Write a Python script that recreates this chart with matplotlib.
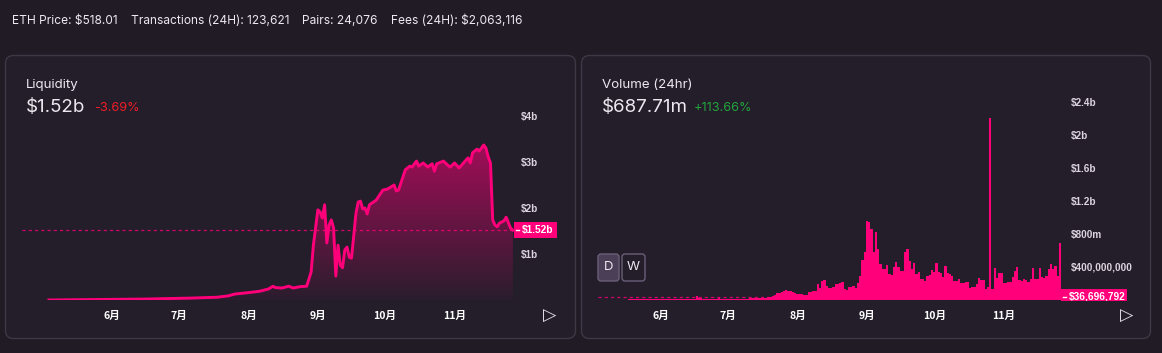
import numpy as np
import pandas as pd
import matplotlib
matplotlib.use("Agg")
import matplotlib.pyplot as plt
import matplotlib.dates as mdates
from matplotlib.patches import FancyBboxPatch, Rectangle
from matplotlib.colors import LinearSegmentedColormap
from matplotlib.lines import Line2D
from matplotlib.transforms import Bbox, IdentityTransform
from matplotlib.ticker import FixedLocator, FuncFormatter

W, H = 1162, 353
PINK = "#ff007a"
BG = "#211b26"
PANEL = "#241e2b"
EDGE = "#3e3846"
TXT = "#ece8f0"
TICK = "#dbd3de"

# header stats
header_items = ["ETH Price: $518.01", "Transactions (24H): 123,621",
                "Pairs: 24,076", "Fees (24H): $2,063,116"]

# liquidity, billions USD
liq_dates = [
    "2020-05-04", "2020-05-25", "2020-06-15", "2020-07-05", "2020-07-18",
    "2020-07-23", "2020-07-26", "2020-08-01", "2020-08-06", "2020-08-10",
    "2020-08-12", "2020-08-13", "2020-08-16", "2020-08-19", "2020-08-21",
    "2020-08-24", "2020-08-27", "2020-08-29", "2020-08-30", "2020-09-01",
    "2020-09-02", "2020-09-03", "2020-09-04", "2020-09-05", "2020-09-06",
    "2020-09-07", "2020-09-08", "2020-09-09", "2020-09-10", "2020-09-11",
    "2020-09-12", "2020-09-13", "2020-09-14", "2020-09-15", "2020-09-16",
    "2020-09-18", "2020-09-19", "2020-09-20", "2020-09-21", "2020-09-22",
    "2020-09-23", "2020-09-24", "2020-09-27", "2020-09-30", "2020-10-02",
    "2020-10-05", "2020-10-06", "2020-10-07", "2020-10-10", "2020-10-12",
    "2020-10-13", "2020-10-15", "2020-10-16", "2020-10-18", "2020-10-20",
    "2020-10-22", "2020-10-23", "2020-10-24", "2020-10-27", "2020-10-29",
    "2020-10-30", "2020-11-01", "2020-11-03", "2020-11-07", "2020-11-08",
    "2020-11-09", "2020-11-11", "2020-11-12", "2020-11-14", "2020-11-15",
    "2020-11-16", "2020-11-17", "2020-11-18", "2020-11-19", "2020-11-20",
    "2020-11-21", "2020-11-23", "2020-11-24", "2020-11-26", "2020-11-27",
]
liq_values = [
    0.00, 0.01, 0.02, 0.04, 0.06,
    0.09, 0.13, 0.16, 0.19, 0.24,
    0.30, 0.27, 0.26, 0.30, 0.26,
    0.29, 0.30, 0.61, 1.19, 1.96,
    1.91, 1.78, 2.07, 1.24, 1.63,
    1.74, 1.57, 0.52, 1.19, 0.76,
    0.70, 1.09, 1.15, 0.93, 0.91,
    1.89, 2.13, 2.15, 1.98, 2.00,
    1.87, 2.07, 2.17, 2.39, 2.41,
    2.50, 2.37, 2.39, 2.83, 2.91,
    2.89, 3.02, 2.91, 2.98, 2.89,
    2.96, 2.80, 2.96, 3.02, 2.93,
    2.89, 2.98, 2.87, 3.09, 2.98,
    3.20, 3.28, 3.24, 3.37, 3.30,
    3.11, 2.98, 1.74, 1.63, 1.59,
    1.67, 1.72, 1.80, 1.56, 1.52,
]
liq_ticks = [1, 2, 3, 4]
liq_tick_labels = ["$1b", "$2b", "$3b", "$4b"]

# daily volume, millions USD, from 2020-05-18
vol_start = "2020-05-18"
vol_may_jul = [8, 9, 9, 10, 10, 10, 11, 11, 11, 12, 12, 12, 12, 13,
               13, 13, 13, 13, 14, 14, 14, 14, 14, 15, 15, 16, 15, 16, 17, 18,
               48, 30, 28, 15, 18, 14, 15, 13, 16, 14, 20, 15, 14, 13, 14, 16, 15,
               12, 14, 15, 16, 17, 18, 16, 20, 22, 20, 25, 30, 20, 24, 28, 35, 38]
vol_jul_sep = [50, 55, 80, 85, 95, 110, 120, 115, 110, 100,
               80, 75, 70, 70, 65, 60, 100, 100, 105, 110,
               190, 150, 230, 240, 170, 150, 150, 160, 200, 200,
               205, 220, 130, 120, 160, 160, 170, 140, 210, 290,
               490, 580, 960, 940, 860, 580, 820, 620, 440, 380,
               380, 420, 310, 300, 400, 460, 400, 350, 350, 580,
               620, 470, 380, 450, 320, 340, 250, 250, 230, 290]
vol_oct_nov = [300, 360, 340, 450, 340, 330, 280, 410, 330, 310,
               290, 230, 230, 250, 210, 210, 220, 220, 150, 160,
               160, 200, 270, 240, 240, 130, 160, 2200, 130, 390,
               270, 330, 330, 210, 210, 220, 220, 280, 350, 400,
               240, 230, 250, 240, 220, 250, 390, 250, 260, 390,
               280, 270, 290, 380, 440, 380, 410, 290, 688]
vol_marker = 36.696792
vol_ticks = [0.4, 0.8, 1.2, 1.6, 2.0, 2.4]
vol_tick_labels = ["$400,000,000", "$800m", "$1.2b", "$1.6b", "$2b", "$2.4b"]

plt.rcParams["font.family"] = ["Inter", "DejaVu Sans"]

fig = plt.figure(figsize=(W / 100, H / 100), dpi=100, facecolor=BG)
ident = IdentityTransform()
renderer = fig.canvas.get_renderer()


def px_axes(x0, y0, x1, y1):
    return fig.add_axes([x0 / W, 1 - y1 / H, (x1 - x0) / W, (y1 - y0) / H])


def panel(x0, y0, x1, y1):
    p = FancyBboxPatch((x0, H - y1), x1 - x0, y1 - y0, transform=ident,
                       boxstyle="round,pad=0,rounding_size=8",
                       fc=PANEL, ec=EDGE, lw=1.0, zorder=-5)
    fig.add_artist(p)


def style_axes(ax):
    ax.set_facecolor("none")
    for s in ax.spines.values():
        s.set_visible(False)
    ax.yaxis.tick_right()
    ax.xaxis.set_major_locator(mdates.MonthLocator(bymonth=range(6, 12)))
    ax.xaxis.set_major_formatter(FuncFormatter(
        lambda v, p: f"{mdates.num2date(v).month}月"))
    ax.tick_params(axis="x", length=0, pad=8, colors="#ffffff",
                   labelsize=7.6)
    ax.tick_params(axis="y", length=0, colors=TICK)


def month_fonts(ax):
    for lbl in ax.get_xticklabels():
        lbl.set_fontfamily(["Noto Sans CJK SC", "DejaVu Sans"])
        lbl.set_fontweight("bold")


def value_tag(ax, value, label, width, clip_bottom=None):
    x0 = ax.bbox.x1
    y = ax.transData.transform((ax.get_xlim()[0], value))[1]
    rect = Rectangle((x0, y - 8), width, 16, transform=ident, fc=PINK, ec="none")
    fig.add_artist(rect)
    dash = Line2D([x0 + 1.5, x0 + 4.5], [y, y], transform=ident, color="white", lw=1)
    fig.add_artist(dash)
    t = fig.text(x0 + 8, y, label, transform=ident, ha="left", va="center",
                 color="white", fontsize=7.3, fontweight="bold",
                 family="Liberation Sans")
    if clip_bottom is not None:
        box = Bbox.from_extents(0, H - clip_bottom, W, H)
        for a in (rect, dash, t):
            a.set_clip_box(box)


panel(5.5, 55.5, 575.5, 338.5)
panel(581.5, 55.5, 1150.5, 338.5)

# header, items laid out left to right with a fixed gap
hx = 12
for txt in header_items:
    t = fig.text(hx, H - 21, txt, transform=ident, color=TXT, fontsize=8.6,
                 va="center")
    hx = t.get_window_extent(renderer).x1 + 13

# liquidity panel
fig.text(26 / W, 1 - 85 / H, "Liquidity", color=TXT, fontsize=9.6, va="center")
fig.text(26 / W, 1 - 107 / H, "$1.52b", color=TXT, fontsize=13.5, va="center")
fig.text(94 / W, 1 - 108 / H, "-3.69%", color="#ee1c25", fontsize=9.2, va="center")

axL = px_axes(22, 110, 514, 300)
style_axes(axL)
ldates = mdates.date2num(pd.to_datetime(liq_dates))
fill = axL.fill_between(ldates, 0, liq_values, facecolor="none", edgecolor="none")
cmap = LinearSegmentedColormap.from_list(
    "liq", [(1, 0, 0.478, 0.03), (1, 0, 0.478, 0.58)])
grad = np.linspace(0, 1, 256).reshape(-1, 1)
im = axL.imshow(grad, extent=[ldates[0], ldates[-1], 0, max(liq_values)],
                origin="lower", aspect="auto", cmap=cmap, zorder=1,
                interpolation="bilinear")
im.set_clip_path(fill.get_paths()[0], transform=axL.transData)
axL.axhline(liq_values[-1], color=PINK, lw=0.9, ls=(0, (2.5, 2.5)), alpha=0.8, zorder=2)
axL.plot(ldates, liq_values, color=PINK, lw=2.1, zorder=3, solid_joinstyle="round")
axL.set_xlim(ldates[0] - 12, ldates[-1] + 0.5)
axL.set_ylim(0, (300 - 110) / 46)
axL.yaxis.set_major_locator(FixedLocator(liq_ticks))
axL.set_yticklabels(liq_tick_labels, fontsize=7.2, fontweight="bold",
                    family="Liberation Sans")
axL.tick_params(axis="y", pad=5)
month_fonts(axL)
value_tag(axL, liq_values[-1], "$1.52b", 43)

# volume panel
fig.text(602 / W, 1 - 85 / H, "Volume (24hr)", color=TXT, fontsize=9.6, va="center")
fig.text(602 / W, 1 - 107 / H, "$687.71m", color=TXT, fontsize=13.5, va="center")
fig.text(694 / W, 1 - 108 / H, "+113.66%", color="#23a33b", fontsize=9.2, va="center")

axR = px_axes(598, 95, 1061, 300)
style_axes(axR)
vol_values = np.array(vol_may_jul + vol_jul_sep + vol_oct_nov) / 1000.0
vdates = mdates.date2num(pd.date_range(vol_start, periods=len(vol_values), freq="D"))
axR.axhline(vol_marker / 1000.0, color=PINK, lw=0.9, ls=(0, (2.5, 2.5)), alpha=0.8, zorder=2)
axR.bar(vdates, vol_values, width=1.0, color=PINK, lw=0, zorder=3)
axR.set_xlim(vdates[0] - 14, vdates[-1] + 0.5)
axR.set_ylim(0, (300 - 95) / 82.5)
axR.yaxis.set_major_locator(FixedLocator(vol_ticks))
axR.set_yticklabels(vol_tick_labels, fontsize=7.2, fontweight="bold",
                    family="Liberation Sans")
axR.tick_params(axis="y", pad=7)
month_fonts(axR)
value_tag(axR, vol_marker / 1000.0, "$36,696,792", 66, clip_bottom=301)

# D / W buttons
for lab, x0, x1, fc in [("D", 598, 619, "#4a3f57"), ("W", 622, 645, "none")]:
    b = FancyBboxPatch((x0, H - 281), x1 - x0, 27, transform=ident,
                       boxstyle="round,pad=0,rounding_size=3",
                       fc=fc, ec="#6b5f78", lw=1.0)
    fig.add_artist(b)
    fig.text((x0 + x1) / 2, H - 267.5, lab, transform=ident, ha="center",
             va="center", color=TXT, fontsize=9.5)

# play icons
for x in (550, 1127):
    fig.text(x, H - 316, "▷", transform=ident, ha="center", va="center",
             color="#e4e0e8", fontsize=12.5, family="DejaVu Sans")

fig.savefig("out.png", dpi=100, facecolor=BG)
